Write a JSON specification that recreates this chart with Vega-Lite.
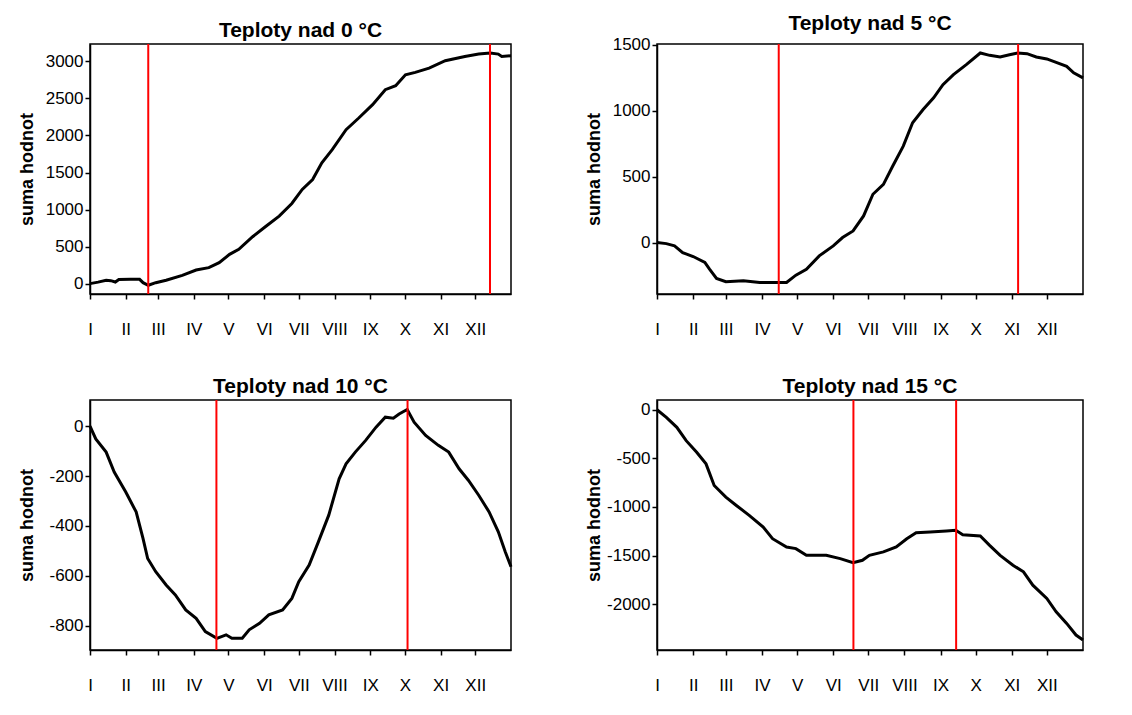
{
  "$schema": "https://vega.github.io/schema/vega-lite/v6.json",
  "padding": {"left": 17, "top": 11, "right": 5, "bottom": 5},
  "background": "white",
  "config": {
    "font": "Liberation Sans",
    "view": {"stroke": "black", "strokeWidth": 1.5},
    "axis": {"grid": false, "domainColor": "black", "tickColor": "black", "labelColor": "black", "titleColor": "black", "domainWidth": 1.5, "tickWidth": 1.5},
    "title": {"fontSize": 21, "fontWeight": "bold", "color": "black", "offset": 2, "font": "Liberation Sans"}
  },
  "datasets": {
    "curves": [
      {"series":"0","day":0,"value":0},{"series":"0","day":7,"value":20},{"series":"0","day":14,"value":45},{"series":"0","day":18,"value":40},{"series":"0","day":22,"value":22},{"series":"0","day":25,"value":55},{"series":"0","day":35,"value":58},{"series":"0","day":43,"value":58},{"series":"0","day":46,"value":13},{"series":"0","day":50.5,"value":-22},{"series":"0","day":57,"value":13},{"series":"0","day":66,"value":45},{"series":"0","day":80,"value":112},{"series":"0","day":92,"value":184},{"series":"0","day":103,"value":216},{"series":"0","day":112,"value":283},{"series":"0","day":121,"value":395},{"series":"0","day":129,"value":463},{"series":"0","day":141,"value":633},{"series":"0","day":152,"value":768},{"series":"0","day":164,"value":912},{"series":"0","day":175,"value":1082},{"series":"0","day":184,"value":1271},{"series":"0","day":193,"value":1406},{"series":"0","day":201,"value":1630},{"series":"0","day":210,"value":1810},{"series":"0","day":222,"value":2079},{"series":"0","day":233,"value":2236},{"series":"0","day":245,"value":2416},{"series":"0","day":256,"value":2618},{"series":"0","day":265,"value":2672},{"series":"0","day":273.5,"value":2820},{"series":"0","day":282,"value":2852},{"series":"0","day":294,"value":2910},{"series":"0","day":308,"value":3009},{"series":"0","day":325,"value":3067},{"series":"0","day":337,"value":3099},{"series":"0","day":347,"value":3112},{"series":"0","day":354,"value":3099},{"series":"0","day":357,"value":3067},{"series":"0","day":365,"value":3076},
      {"series":"5","day":0,"value":0},{"series":"5","day":8,"value":-8},{"series":"5","day":15,"value":-25},{"series":"5","day":22,"value":-76},{"series":"5","day":31,"value":-106},{"series":"5","day":41,"value":-151},{"series":"5","day":45,"value":-202},{"series":"5","day":51,"value":-272},{"series":"5","day":59,"value":-297},{"series":"5","day":74,"value":-290},{"series":"5","day":88,"value":-303},{"series":"5","day":99,"value":-303},{"series":"5","day":111,"value":-303},{"series":"5","day":119,"value":-247},{"series":"5","day":128,"value":-202},{"series":"5","day":139,"value":-101},{"series":"5","day":151,"value":-25},{"series":"5","day":159,"value":38},{"series":"5","day":168,"value":88},{"series":"5","day":177,"value":202},{"series":"5","day":185,"value":366},{"series":"5","day":194,"value":441},{"series":"5","day":202,"value":580},{"series":"5","day":211,"value":731},{"series":"5","day":219,"value":908},{"series":"5","day":228,"value":1008},{"series":"5","day":237,"value":1097},{"series":"5","day":245,"value":1197},{"series":"5","day":254,"value":1273},{"series":"5","day":265,"value":1349},{"series":"5","day":277,"value":1437},{"series":"5","day":285,"value":1419},{"series":"5","day":294,"value":1407},{"series":"5","day":302,"value":1424},{"series":"5","day":309,"value":1437},{"series":"5","day":317,"value":1432},{"series":"5","day":325,"value":1407},{"series":"5","day":334,"value":1392},{"series":"5","day":342,"value":1366},{"series":"5","day":351,"value":1336},{"series":"5","day":357,"value":1286},{"series":"5","day":365,"value":1248},
      {"series":"10","day":0,"value":0},{"series":"10","day":5,"value":-51},{"series":"10","day":14,"value":-104},{"series":"10","day":21,"value":-184},{"series":"10","day":31,"value":-264},{"series":"10","day":40,"value":-344},{"series":"10","day":46,"value":-451},{"series":"10","day":50,"value":-531},{"series":"10","day":57,"value":-584},{"series":"10","day":66,"value":-637},{"series":"10","day":74,"value":-677},{"series":"10","day":83,"value":-737},{"series":"10","day":92,"value":-771},{"series":"10","day":100,"value":-824},{"series":"10","day":110,"value":-851},{"series":"10","day":118,"value":-837},{"series":"10","day":123,"value":-851},{"series":"10","day":132,"value":-851},{"series":"10","day":138,"value":-817},{"series":"10","day":147,"value":-791},{"series":"10","day":155,"value":-757},{"series":"10","day":167,"value":-737},{"series":"10","day":175,"value":-691},{"series":"10","day":181,"value":-624},{"series":"10","day":190,"value":-557},{"series":"10","day":198,"value":-464},{"series":"10","day":207,"value":-357},{"series":"10","day":216,"value":-211},{"series":"10","day":222,"value":-151},{"series":"10","day":230,"value":-104},{"series":"10","day":239,"value":-57},{"series":"10","day":248,"value":-4},{"series":"10","day":256,"value":36},{"series":"10","day":263,"value":32},{"series":"10","day":268,"value":49},{"series":"10","day":275,"value":67},{"series":"10","day":281,"value":16},{"series":"10","day":291,"value":-37},{"series":"10","day":302,"value":-77},{"series":"10","day":311,"value":-104},{"series":"10","day":320,"value":-171},{"series":"10","day":328,"value":-217},{"series":"10","day":337,"value":-277},{"series":"10","day":346,"value":-344},{"series":"10","day":354,"value":-424},{"series":"10","day":360,"value":-504},{"series":"10","day":365,"value":-564},
      {"series":"15","day":0,"value":0},{"series":"15","day":8,"value":-79},{"series":"15","day":17,"value":-181},{"series":"15","day":25,"value":-318},{"series":"15","day":34,"value":-438},{"series":"15","day":42,"value":-557},{"series":"15","day":49,"value":-780},{"series":"15","day":59,"value":-899},{"series":"15","day":68,"value":-985},{"series":"15","day":79,"value":-1087},{"series":"15","day":91,"value":-1207},{"series":"15","day":99,"value":-1327},{"series":"15","day":111,"value":-1412},{"series":"15","day":119,"value":-1429},{"series":"15","day":128,"value":-1498},{"series":"15","day":145,"value":-1498},{"series":"15","day":157,"value":-1532},{"series":"15","day":168,"value":-1573},{"series":"15","day":176,"value":-1549},{"series":"15","day":182,"value":-1498},{"series":"15","day":194,"value":-1463},{"series":"15","day":205,"value":-1412},{"series":"15","day":214,"value":-1327},{"series":"15","day":222,"value":-1265},{"series":"15","day":234,"value":-1258},{"series":"15","day":248,"value":-1248},{"series":"15","day":256,"value":-1241},{"series":"15","day":262,"value":-1286},{"series":"15","day":277,"value":-1299},{"series":"15","day":285,"value":-1395},{"series":"15","day":294,"value":-1498},{"series":"15","day":305,"value":-1600},{"series":"15","day":314,"value":-1668},{"series":"15","day":322,"value":-1805},{"series":"15","day":334,"value":-1942},{"series":"15","day":342,"value":-2079},{"series":"15","day":351,"value":-2198},{"series":"15","day":359,"value":-2318},{"series":"15","day":365,"value":-2369}
    ],
    "markers": [
      {"series":"0","day":50.5},{"series":"0","day":346.8},
      {"series":"5","day":104.3},{"series":"5","day":309.4},
      {"series":"10","day":109.6},{"series":"10","day":275.3},
      {"series":"15","day":168.3},{"series":"15","day":256.3}
    ]
  },
  "columns": 2,
  "spacing": {"row": 37, "column": 66},
  "concat": [
    {
      "title": "Teploty nad 0 °C",
      "width": 421, "height": 250,
      "encoding": {"x": {"field": "day", "type": "quantitative", "scale": {"domain": [0, 365], "nice": false, "zero": false},
        "axis": {"title": null, "values": [0,31,59,90,120,151,181,212,243,273,304,334], "labelExpr": "['I','II','III','IV','V','VI','VII','VIII','IX','X','XI','XII'][indexof([0,31,59,90,120,151,181,212,243,273,304,334], datum.value)]", "tickSize": 5, "labelPadding": 22, "labelFontSize": 17, "labelFlush": false, "labelOverlap": false, "labelAlign": "center"}}},
      "layer": [
        {"data": {"name": "curves"}, "transform": [{"filter": "datum.series == '0'"}],
         "mark": {"type": "line", "color": "black", "strokeWidth": 3},
         "encoding": {"y": {"field": "value", "type": "quantitative", "scale": {"domain": [-140, 3235], "nice": false, "zero": false},
           "axis": {"title": "suma hodnot", "values": [0,500,1000,1500,2000,2500,3000], "labelExpr": "'' + datum.value", "tickSize": 5, "labelPadding": 2, "labelFontSize": 17, "titleFontSize": 18, "titleFontWeight": "bold", "titleX": -58, "titleY": 125, "titleAngle": -90, "titleBaseline": "alphabetic", "titleAlign": "center", "labelFlush": false, "labelOverlap": false}}}},
        {"data": {"name": "markers"}, "transform": [{"filter": "datum.series == '0'"}],
         "mark": {"type": "rule", "color": "#ff0000", "strokeWidth": 2},
         "encoding": {}}
      ]
    },
    {
      "title": "Teploty nad 5 °C",
      "width": 426, "height": 250,
      "encoding": {"x": {"field": "day", "type": "quantitative", "scale": {"domain": [0, 365], "nice": false, "zero": false},
        "axis": {"title": null, "values": [0,31,59,90,120,151,181,212,243,273,304,334], "labelExpr": "['I','II','III','IV','V','VI','VII','VIII','IX','X','XI','XII'][indexof([0,31,59,90,120,151,181,212,243,273,304,334], datum.value)]", "tickSize": 5, "labelPadding": 22, "labelFontSize": 17, "labelFlush": false, "labelOverlap": false, "labelAlign": "center"}}},
      "layer": [
        {"data": {"name": "curves"}, "transform": [{"filter": "datum.series == '5'"}],
         "mark": {"type": "line", "color": "black", "strokeWidth": 3},
         "encoding": {"y": {"field": "value", "type": "quantitative", "scale": {"domain": [-390, 1505], "nice": false, "zero": false},
           "axis": {"title": "suma hodnot", "values": [0,500,1000,1500], "labelExpr": "'' + datum.value", "tickSize": 5, "labelPadding": 2, "labelFontSize": 17, "titleFontSize": 18, "titleFontWeight": "bold", "titleX": -58, "titleY": 125, "titleAngle": -90, "titleBaseline": "alphabetic", "titleAlign": "center", "labelFlush": false, "labelOverlap": false}}}},
        {"data": {"name": "markers"}, "transform": [{"filter": "datum.series == '5'"}],
         "mark": {"type": "rule", "color": "#ff0000", "strokeWidth": 2},
         "encoding": {}}
      ]
    },
    {
      "title": "Teploty nad 10 °C",
      "width": 421, "height": 250,
      "encoding": {"x": {"field": "day", "type": "quantitative", "scale": {"domain": [0, 365], "nice": false, "zero": false},
        "axis": {"title": null, "values": [0,31,59,90,120,151,181,212,243,273,304,334], "labelExpr": "['I','II','III','IV','V','VI','VII','VIII','IX','X','XI','XII'][indexof([0,31,59,90,120,151,181,212,243,273,304,334], datum.value)]", "tickSize": 5, "labelPadding": 22, "labelFontSize": 17, "labelFlush": false, "labelOverlap": false, "labelAlign": "center"}}},
      "layer": [
        {"data": {"name": "curves"}, "transform": [{"filter": "datum.series == '10'"}],
         "mark": {"type": "line", "color": "black", "strokeWidth": 3},
         "encoding": {"y": {"field": "value", "type": "quantitative", "scale": {"domain": [-898, 105], "nice": false, "zero": false},
           "axis": {"title": "suma hodnot", "values": [-800,-600,-400,-200,0], "labelExpr": "'' + datum.value", "tickSize": 5, "labelPadding": 2, "labelFontSize": 17, "titleFontSize": 18, "titleFontWeight": "bold", "titleX": -58, "titleY": 125, "titleAngle": -90, "titleBaseline": "alphabetic", "titleAlign": "center", "labelFlush": false, "labelOverlap": false}}}},
        {"data": {"name": "markers"}, "transform": [{"filter": "datum.series == '10'"}],
         "mark": {"type": "rule", "color": "#ff0000", "strokeWidth": 2},
         "encoding": {}}
      ]
    },
    {
      "title": "Teploty nad 15 °C",
      "width": 426, "height": 250,
      "encoding": {"x": {"field": "day", "type": "quantitative", "scale": {"domain": [0, 365], "nice": false, "zero": false},
        "axis": {"title": null, "values": [0,31,59,90,120,151,181,212,243,273,304,334], "labelExpr": "['I','II','III','IV','V','VI','VII','VIII','IX','X','XI','XII'][indexof([0,31,59,90,120,151,181,212,243,273,304,334], datum.value)]", "tickSize": 5, "labelPadding": 22, "labelFontSize": 17, "labelFlush": false, "labelOverlap": false, "labelAlign": "center"}}},
      "layer": [
        {"data": {"name": "curves"}, "transform": [{"filter": "datum.series == '15'"}],
         "mark": {"type": "line", "color": "black", "strokeWidth": 3},
         "encoding": {"y": {"field": "value", "type": "quantitative", "scale": {"domain": [-2472, 100], "nice": false, "zero": false},
           "axis": {"title": "suma hodnot", "values": [-2000,-1500,-1000,-500,0], "labelExpr": "'' + datum.value", "tickSize": 5, "labelPadding": 2, "labelFontSize": 17, "titleFontSize": 18, "titleFontWeight": "bold", "titleX": -58, "titleY": 125, "titleAngle": -90, "titleBaseline": "alphabetic", "titleAlign": "center", "labelFlush": false, "labelOverlap": false}}}},
        {"data": {"name": "markers"}, "transform": [{"filter": "datum.series == '15'"}],
         "mark": {"type": "rule", "color": "#ff0000", "strokeWidth": 2},
         "encoding": {}}
      ]
    }
  ]
}
